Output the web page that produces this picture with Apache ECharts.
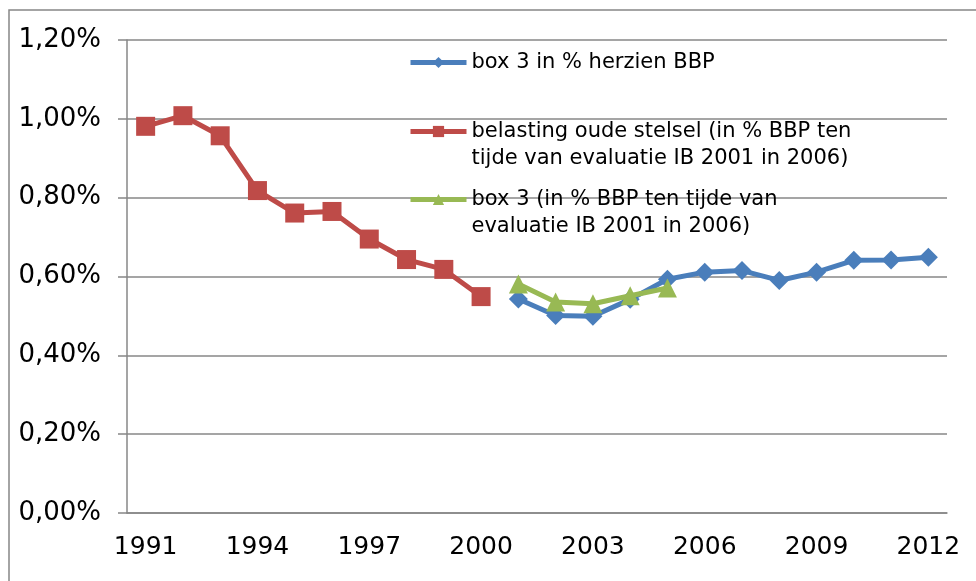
<!DOCTYPE html>
<html>
<head>
<meta charset="utf-8">
<script src="https://cdn.jsdelivr.net/npm/echarts@6/dist/echarts.min.js"></script>
<style>
  html, body { margin: 0; padding: 0; background: #fff; }
  #chart { width: 976px; height: 581px; }
</style>
</head>
<body>
<div id="chart"></div>
<script>
// jaren 1991 - 2012
var years = ['1991', '1992', '1993', '1994', '1995', '1996', '1997', '1998', '1999', '2000', '2001',
  '2002', '2003', '2004', '2005', '2006', '2007', '2008', '2009', '2010', '2011', '2012'];

// waarden in % BBP
var oudStelsel = [0.981, 1.008, 0.957, 0.818, 0.761, 0.765, 0.695, 0.643, 0.618, 0.549,
  null, null, null, null, null, null, null, null, null, null, null, null];
var box3Herzien = [null, null, null, null, null, null, null, null, null, null,
  0.543, 0.501, 0.499, 0.542, 0.593, 0.611, 0.615, 0.590, 0.611, 0.641, 0.642, 0.649];
var box3Evaluatie = [null, null, null, null, null, null, null, null, null, null,
  0.581, 0.535, 0.531, 0.551, 0.571, null, null, null, null, null, null, null];

var names = [
  'box 3 in % herzien BBP',
  'belasting oude stelsel (in % BBP ten\ntijde van evaluatie IB 2001 in 2006)',
  'box 3 (in % BBP ten tijde van\nevaluatie IB 2001 in 2006)'
];

var gridColor = '#878787';
var font = 'DejaVu Sans, Verdana, sans-serif';

var chart = echarts.init(document.getElementById('chart'));

// een legenda per reeks; lege regel ervoor zodat het icoon bij de eerste regel staat
function legendFor(name, top) {
  return {
    show: true,
    orient: 'vertical',
    left: 408,
    top: top,
    padding: 0,
    itemWidth: 56,
    itemHeight: 14,
    data: [name],
    lineStyle: { width: 5 },
    formatter: function (n) {
      return n.indexOf('\n') >= 0 ? '\n' + n : n;
    },
    textStyle: {
      fontFamily: font,
      fontSize: 21,
      lineHeight: 27,
      color: '#000'
    }
  };
}

chart.setOption({
  animation: false,
  backgroundColor: '#fff',
  graphic: [{
    type: 'rect',
    shape: { x: 9, y: 10, width: 1000, height: 1000 },
    style: { fill: 'none', stroke: gridColor, lineWidth: 1.5 },
    silent: true
  }],
  grid: { left: 127, right: 29, top: 40, bottom: 68 },
  legend: [
    legendFor(names[0], 49),
    legendFor(names[1], 91),
    legendFor(names[2], 159)
  ],
  xAxis: {
    type: 'category',
    data: years,
    boundaryGap: true,
    axisLine: { lineStyle: { color: gridColor, width: 1.5 } },
    axisTick: { interval: 0, length: 8, lineStyle: { color: gridColor, width: 1.5 } },
    axisLabel: {
      interval: 2,
      margin: 22,
      fontFamily: font,
      fontSize: 25,
      color: '#000'
    }
  },
  yAxis: {
    type: 'value',
    min: 0,
    max: 1.2,
    interval: 0.2,
    axisLine: { show: true, lineStyle: { color: gridColor, width: 1.5 } },
    axisTick: { show: true, length: 9, lineStyle: { color: gridColor, width: 1.5 } },
    splitLine: { lineStyle: { color: gridColor, width: 1.5 } },
    axisLabel: {
      margin: 26,
      fontFamily: font,
      fontSize: 26,
      color: '#000',
      formatter: function (v) {
        return v.toFixed(2).replace('.', ',') + '%';
      }
    }
  },
  series: [
    {
      name: names[0],
      type: 'line',
      data: box3Herzien,
      symbol: 'diamond',
      symbolSize: 19,
      z: 2,
      lineStyle: { color: '#4a7ebb', width: 5 },
      itemStyle: { color: '#4a7ebb' }
    },
    {
      name: names[1],
      type: 'line',
      data: oudStelsel,
      symbol: 'rect',
      symbolSize: 19,
      z: 3,
      lineStyle: { color: '#be4b48', width: 5 },
      itemStyle: { color: '#be4b48' }
    },
    {
      name: names[2],
      type: 'line',
      data: box3Evaluatie,
      symbol: 'triangle',
      symbolSize: 19,
      z: 4,
      lineStyle: { color: '#98b954', width: 5 },
      itemStyle: { color: '#98b954' }
    }
  ]
});
</script>
</body>
</html>
